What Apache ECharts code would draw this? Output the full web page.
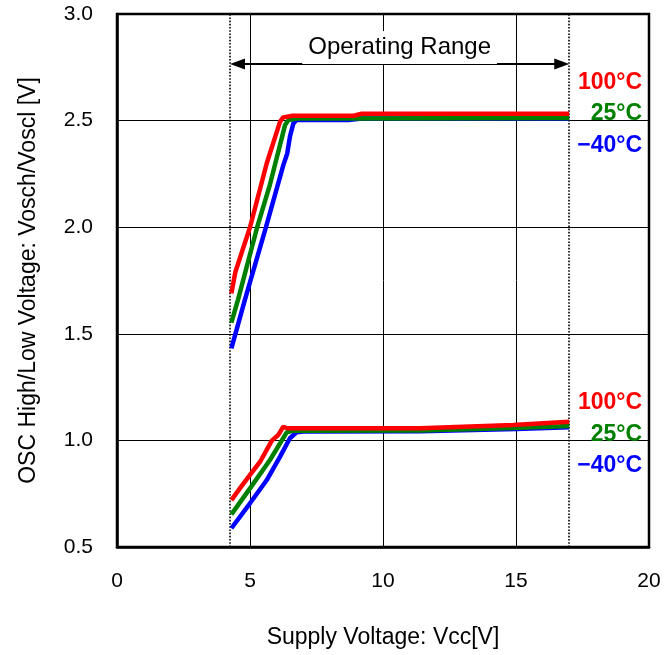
<!DOCTYPE html>
<html>
<head>
<meta charset="utf-8">
<script src="https://cdn.jsdelivr.net/npm/echarts@6/dist/echarts.min.js"></script>
<style>
html,body{margin:0;padding:0;background:#fff;}
#chart{width:672px;height:655px;}
</style>
</head>
<body>
<div id="chart"></div>
<script>
// ---- data ----
const temps = ['100°C', '25°C', '−40°C'];
const colors = ['#ff0000', '#008000', '#0000ff'];

// OSC High voltage (Vosch) [Vcc, V]
const highHot = [[4.3,1.69],[4.45,1.79],[5.0,2.0],[5.63,2.3],[6.13,2.495],[6.25,2.515],[6.6,2.523],[8.9,2.523],[9.2,2.532],[17,2.532]];
const highRoom = [[4.3,1.552],[4.55,1.66],[5.27,2.0],[5.75,2.2],[6.32,2.48],[6.45,2.503],[6.75,2.51],[9.0,2.51],[17,2.512]];
const highCold = [[4.3,1.432],[4.81,1.66],[5.6,2.0],[6.25,2.29],[6.4,2.346],[6.5,2.424],[6.63,2.487],[6.75,2.503],[8.7,2.503],[9.2,2.51],[17,2.51]];

// OSC Low voltage (Voscl) [Vcc, V]
const lowHot = [[4.3,0.72],[4.62,0.775],[5.0,0.838],[5.38,0.9],[5.82,0.999],[6.06,1.025],[6.25,1.064],[6.4,1.057],[11.4,1.057],[14.9,1.072],[17,1.087]];
const lowRoom = [[4.3,0.653],[5.0,0.775],[5.75,0.908],[6.38,1.038],[6.6,1.045],[11.4,1.047],[14.9,1.058],[17,1.068]];
const lowCold = [[4.3,0.588],[5.0,0.705],[5.63,0.814],[6.13,0.924],[6.5,1.01],[6.75,1.038],[7.0,1.042],[11.4,1.043],[15,1.053],[17,1.062]];

// Operating range
const opRange = [4.25, 17];
const opArrowY = 2.765;
const opLabel = 'Operating Range';
const arrowInset = 0.28; // half arrow-head length, so tips touch the range bounds

// temperature label anchors (data coords: right edge x, centre y)
const labelX = 19.74;
const highLabelY = [2.676, 2.531, 2.381];
const lowLabelY = [1.178, 1.028, 0.882];

const xTicks = {min: 0, max: 20, interval: 5};
const yTicks = {min: 0.5, max: 3.0, interval: 0.5};

const xName = 'Supply Voltage: Vcc[V]';
const yName = 'OSC High/Low Voltage: Vosch/Voscl [V]';

// ---- chart ----
const FONT = 'Liberation Sans, Arial, sans-serif';
const chart = echarts.init(document.getElementById('chart'), null, {renderer: 'canvas'});

function lineSeries(name, data, idx, labelY) {
  return {
    name: name,
    type: 'line',
    data: data,
    showSymbol: false,
    symbol: 'none',
    smooth: false,
    z: 10 - idx,
    lineStyle: {color: colors[idx], width: 4.5},
    itemStyle: {color: colors[idx]},
    markPoint: {
      symbol: 'circle',
      symbolSize: 0,
      silent: true,
      data: [{name: temps[idx], coord: [labelX, labelY]}],
      label: {
        show: true,
        position: 'left',
        distance: 0,
        formatter: '{b}',
        color: colors[idx],
        fontFamily: FONT,
        fontWeight: 'bold',
        fontSize: 23
      }
    }
  };
}

const series = [];
// draw cold first, hot on top
for (let i = 2; i >= 0; i--) {
  series.push(lineSeries(temps[i] + ' high', [highHot, highRoom, highCold][i], i, highLabelY[i]));
  series.push(lineSeries(temps[i] + ' low', [lowHot, lowRoom, lowCold][i], i, lowLabelY[i]));
}

// annotation series: dotted range bounds + arrow
series.push({
  name: 'range',
  type: 'line',
  data: [],
  silent: true,
  markLine: {
    silent: true,
    animation: false,
    symbol: 'none',
    label: {show: false},
    lineStyle: {color: '#000', type: 'dotted', width: 1.6},
    data: [{xAxis: opRange[0]}, {xAxis: opRange[1]}]
  }
});
series.push({
  name: 'arrow',
  type: 'line',
  data: [],
  silent: true,
  markLine: {
    silent: true,
    animation: false,
    symbol: ['triangle', 'triangle'],
    symbolSize: [11, 15],
    lineStyle: {color: '#000', type: 'solid', width: 2},
    label: {
      show: true,
      position: 'middle',
      distance: 0,
      formatter: opLabel,
      color: '#000',
      fontFamily: FONT,
      fontSize: 24,
      backgroundColor: '#fff',
      padding: [4, 6, 5, 6]
    },
    data: [[{coord: [opRange[0] + arrowInset, opArrowY]}, {coord: [opRange[1] - arrowInset, opArrowY]}]]
  }
});

const axisCommon = {
  type: 'value',
  nameLocation: 'middle',
  nameTextStyle: {fontFamily: FONT, fontSize: 23, color: '#000'},
  axisLine: {show: true, onZero: false, lineStyle: {color: '#000', width: 2.5}},
  axisTick: {show: false},
  splitLine: {show: true, lineStyle: {color: '#000', width: 1}},
  axisLabel: {fontFamily: FONT, fontSize: 21, color: '#000'}
};

chart.setOption({
  animation: false,
  backgroundColor: '#fff',
  grid: {left: 117, right: 23, top: 14, bottom: 108, show: true, borderColor: '#000', borderWidth: 2.5},
  xAxis: Object.assign({}, axisCommon, {
    min: xTicks.min, max: xTicks.max, interval: xTicks.interval,
    name: xName, nameGap: 79,
    axisLabel: Object.assign({}, axisCommon.axisLabel, {margin: 24})
  }),
  yAxis: Object.assign({}, axisCommon, {
    min: yTicks.min, max: yTicks.max, interval: yTicks.interval,
    name: yName, nameGap: 77,
    axisLabel: Object.assign({}, axisCommon.axisLabel, {margin: 24, formatter: v => v.toFixed(1)})
  }),
  series: series
});
</script>
</body>
</html>
